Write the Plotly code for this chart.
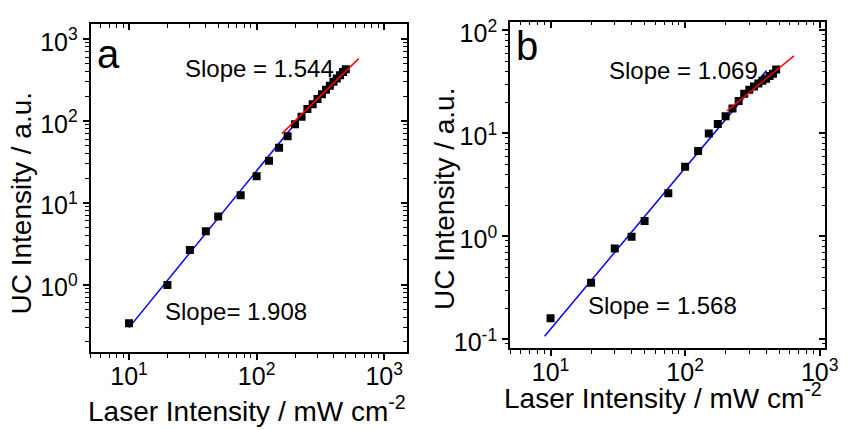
import plotly.graph_objects as go

# ---------------- data ----------------
# Panel a
a_x = [10, 20, 30, 40, 50, 75, 100, 125, 150, 175, 200, 225, 250, 275, 300,
       325, 350, 375, 400, 425, 450, 475, 500]
a_y = [0.336, 0.99, 2.64, 4.48, 6.8, 12.3, 21, 32.5, 46.9, 65, 91, 112, 140,
       160, 185, 212, 240, 268, 300, 330, 360, 395, 427]
a_fit1_x = [10, 313]
a_fit1_y = [0.298, 218]
a_fit2_x = [158, 631]
a_fit2_y = [69.8, 576]

# Panel b
b_x = [10, 20, 30, 40, 50, 75, 100, 125, 150, 175, 200, 225, 250, 275, 300,
       325, 350, 375, 400, 425, 450, 475]
b_y = [0.16, 0.353, 0.76, 0.99, 1.41, 2.62, 4.73, 6.74, 9.96, 12.3, 14.6,
       17.4, 20.6, 24.2, 26.4, 28.4, 30.5, 32.3, 33.8, 36.0, 37.8, 41.7]
b_fit1_x = [9.03, 403]
b_fit1_y = [0.107, 40.7]
b_fit2_x = [205, 644]
b_fit2_y = [16.5, 56.4]

x_tick_vals = [10, 100, 1000]
x_tick_text = ["10<sup>1</sup>", "10<sup>2</sup>", "10<sup>3</sup>"]
a_y_tick_vals = [1, 10, 100, 1000]
a_y_tick_text = ["10<sup>0</sup>", "10<sup>1</sup>", "10<sup>2</sup>", "10<sup>3</sup>"]
b_y_tick_vals = [0.1, 1, 10, 100]
b_y_tick_text = ["10<sup>-1</sup>", "10<sup>0</sup>", "10<sup>1</sup>", "10<sup>2</sup>"]

# ---------------- layout helpers ----------------
W, H = 849, 430
FONT = "Liberation Sans, Arial, sans-serif"

def minor_vals(lo, hi):
    out = []
    e = lo
    while e <= hi:
        for k in range(2, 10):
            out.append(k * 10 ** e)
        e += 1
    return out

def px(x):
    return x / W

def py(y):
    return 1 - y / H

fig = go.Figure()

marker = dict(symbol="square", size=8, color="black")
line_blue = dict(color="#0000FF", width=1.5)
line_red = dict(color="#FF0000", width=1.5)

# panel a
fig.add_trace(go.Scatter(x=a_fit1_x, y=a_fit1_y, mode="lines", line=line_blue,
                         xaxis="x", yaxis="y", showlegend=False))
fig.add_trace(go.Scatter(x=a_x, y=a_y, mode="markers", marker=marker,
                         xaxis="x", yaxis="y", showlegend=False))
fig.add_trace(go.Scatter(x=a_fit2_x, y=a_fit2_y, mode="lines", line=line_red,
                         xaxis="x", yaxis="y", showlegend=False))
# panel b
fig.add_trace(go.Scatter(x=b_fit1_x, y=b_fit1_y, mode="lines", line=line_blue,
                         xaxis="x2", yaxis="y2", showlegend=False))
fig.add_trace(go.Scatter(x=b_x, y=b_y, mode="markers", marker=marker,
                         xaxis="x2", yaxis="y2", showlegend=False))
fig.add_trace(go.Scatter(x=b_fit2_x, y=b_fit2_y, mode="lines", line=line_red,
                         xaxis="x2", yaxis="y2", showlegend=False))
# invisible traces for mirrored (inside-tick) axes
fig.add_trace(go.Scatter(x=[10], y=[1], mode="markers", marker=dict(opacity=0),
                         xaxis="x3", yaxis="y3", showlegend=False, hoverinfo="skip"))
fig.add_trace(go.Scatter(x=[10], y=[1], mode="markers", marker=dict(opacity=0),
                         xaxis="x4", yaxis="y4", showlegend=False, hoverinfo="skip"))

a_xr = [0.699, 3.176]
a_yr = [-0.826, 3.178]
b_xr = [0.699, 3.041]
b_yr = [-1.088, 2.085]

a_xd = [px(92), px(413)]
a_yd = [py(357), py(19)]
b_xd = [px(518), px(838)]
b_yd = [py(353), py(16)]

tickfont = dict(family=FONT, size=25, color="black")

def main_x(dom, rng, anchor):
    return dict(type="log", domain=dom, range=rng, anchor=anchor,
                tickmode="array", tickvals=x_tick_vals, ticktext=x_tick_text,
                ticks="outside", ticklen=6, tickwidth=1.5, tickcolor="black",
                minor=dict(tickmode="array", tickvals=minor_vals(0, 3),
                           ticks="outside", ticklen=3.5, tickwidth=1.2, tickcolor="black"),
                showline=True, linecolor="black", linewidth=1.8, mirror=True,
                showgrid=False, zeroline=False, tickfont=tickfont,
                ticklabeloverflow="allow", ticklabelstandoff=-5)

def main_y(dom, rng, anchor, vals, text):
    return dict(type="log", domain=dom, range=rng, anchor=anchor,
                tickmode="array", tickvals=vals, ticktext=text,
                ticks="outside", ticklen=6, tickwidth=1.5, tickcolor="black",
                minor=dict(tickmode="array", tickvals=minor_vals(-2, 3),
                           ticks="outside", ticklen=3.5, tickwidth=1.2, tickcolor="black"),
                showline=True, linecolor="black", linewidth=1.8, mirror=True,
                showgrid=False, zeroline=False, tickfont=tickfont,
                ticklabeloverflow="allow", ticklabelshift=3)

def mirror_x(dom, rng, anchor, overlay):
    return dict(type="log", domain=dom, range=rng, anchor=anchor, overlaying=overlay,
                side="top", tickmode="array", tickvals=x_tick_vals,
                ticks="inside", ticklen=6, tickwidth=1.5, tickcolor="black",
                minor=dict(tickmode="array", tickvals=minor_vals(0, 3),
                           ticks="inside", ticklen=3.5, tickwidth=1.2, tickcolor="black"),
                showticklabels=False, showline=False, showgrid=False, zeroline=False)

def mirror_y(dom, rng, anchor, overlay, vals):
    return dict(type="log", domain=dom, range=rng, anchor=anchor, overlaying=overlay,
                side="right", tickmode="array", tickvals=vals,
                ticks="inside", ticklen=6, tickwidth=1.5, tickcolor="black",
                minor=dict(tickmode="array", tickvals=minor_vals(-2, 3),
                           ticks="inside", ticklen=3.5, tickwidth=1.2, tickcolor="black"),
                showticklabels=False, showline=False, showgrid=False, zeroline=False)

fig.update_layout(
    width=W, height=H,
    margin=dict(l=0, r=0, t=0, b=0),
    paper_bgcolor="white", plot_bgcolor="white",
    font=dict(family=FONT, color="black"),
    xaxis=main_x(a_xd, a_xr, "y"),
    yaxis=main_y(a_yd, a_yr, "x", a_y_tick_vals, a_y_tick_text),
    xaxis2=main_x(b_xd, b_xr, "y2"),
    yaxis2=main_y(b_yd, b_yr, "x2", b_y_tick_vals, b_y_tick_text),
    xaxis3=mirror_x(a_xd, a_xr, "y3", "x"),
    yaxis3=mirror_y(a_yd, a_yr, "x3", "y", a_y_tick_vals),
    xaxis4=mirror_x(b_xd, b_xr, "y4", "x2"),
    yaxis4=mirror_y(b_yd, b_yr, "x4", "y2", b_y_tick_vals),
)

def ann(text, x, y, size, angle=0):
    fig.add_annotation(text=text, x=px(x), y=py(y), xref="paper", yref="paper",
                       showarrow=False, xanchor="center", yanchor="middle",
                       textangle=angle, font=dict(family=FONT, size=size, color="black"))

ann("a", 110, 50, 40)
ann("Slope = 1.544", 264, 64, 24)
ann("Slope= 1.908", 240, 315, 24)
ann("b", 535, 41, 40)
ann("Slope = 1.069", 694, 67, 24)
ann("Slope = 1.568", 673, 309, 24)
ann("UC Intensity / a.u.", 22, 203, 28, -90)
ann("Laser Intensity / mW cm<sup>-2</sup>", 251, 416, 28)
ann("UC Intensity / a.u.", 452, 199, 28, -90)
ann("Laser Intensity / mW cm<sup>-2</sup>", 673, 402, 28)

fig.write_html("out.html", config={"displayModeBar": False},
               post_script="document.body.style.margin='0px';document.body.style.padding='0px';"
                           "document.documentElement.style.overflow='hidden';")
